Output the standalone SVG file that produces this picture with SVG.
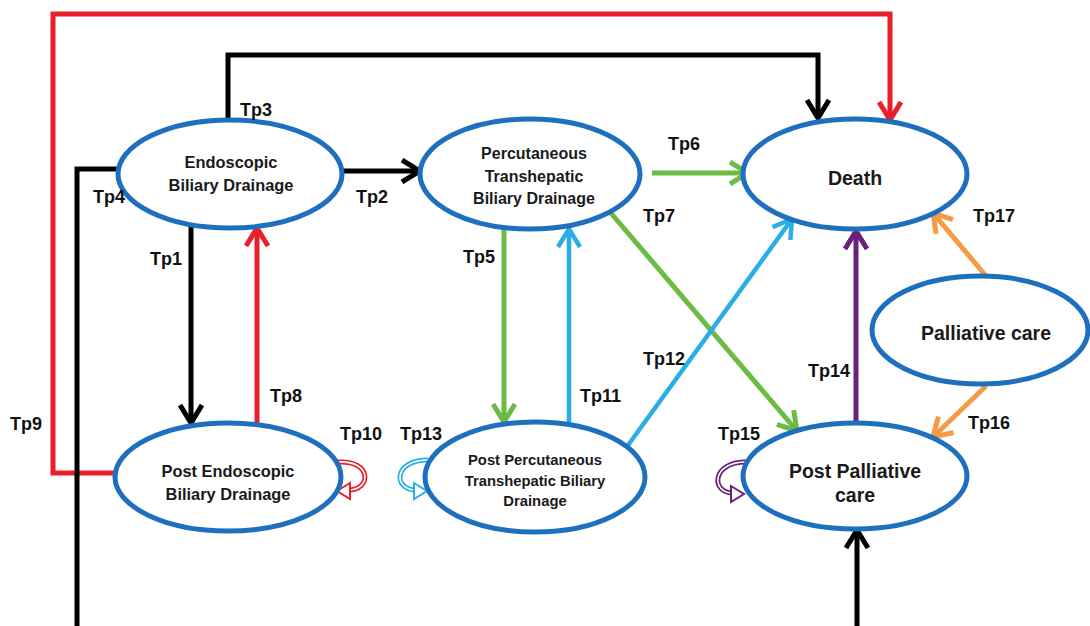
<svg xmlns="http://www.w3.org/2000/svg" width="1090" height="626" viewBox="0 0 1090 626">
<style>
.node{fill:#fff;stroke:#1f6fbf;stroke-width:5}
.nt{font-family:"Liberation Sans",Arial,sans-serif;font-weight:bold;fill:#1a1a1a;text-anchor:middle}
.lbl{font-family:"Liberation Sans",Arial,sans-serif;font-weight:bold;font-size:18px;fill:#111}
.c{fill:none;stroke-linejoin:miter}
.k{stroke:#000;stroke-width:5}
.r{stroke:#e8202a;stroke-width:5}
.g{stroke:#6cbb45;stroke-width:5}
.b{stroke:#29aee6;stroke-width:4.5}
.p{stroke:#6a2278;stroke-width:5}
.o{stroke:#f59b45;stroke-width:5}
.w{stroke:#fff;stroke-width:1.6;fill:none}
</style>
<defs>
<marker id="ak" viewBox="0 0 24 26" markerUnits="userSpaceOnUse" markerWidth="24" markerHeight="26" refX="21" refY="13" orient="auto"><path d="M3,2 L21,13 L3,24" fill="none" stroke="#000" stroke-width="5"/></marker>
<marker id="ar" viewBox="0 0 24 26" markerUnits="userSpaceOnUse" markerWidth="24" markerHeight="26" refX="21" refY="13" orient="auto"><path d="M3,2 L21,13 L3,24" fill="none" stroke="#e8202a" stroke-width="5"/></marker>
<marker id="ag" viewBox="0 0 24 26" markerUnits="userSpaceOnUse" markerWidth="24" markerHeight="26" refX="21" refY="13" orient="auto"><path d="M3,2 L21,13 L3,24" fill="none" stroke="#6cbb45" stroke-width="5"/></marker>
<marker id="ab" viewBox="0 0 24 26" markerUnits="userSpaceOnUse" markerWidth="24" markerHeight="26" refX="21" refY="13" orient="auto"><path d="M3,2 L21,13 L3,24" fill="none" stroke="#29aee6" stroke-width="4.5"/></marker>
<marker id="ap" viewBox="0 0 24 26" markerUnits="userSpaceOnUse" markerWidth="24" markerHeight="26" refX="21" refY="13" orient="auto"><path d="M3,2 L21,13 L3,24" fill="none" stroke="#6a2278" stroke-width="5"/></marker>
<marker id="ao" viewBox="0 0 24 26" markerUnits="userSpaceOnUse" markerWidth="24" markerHeight="26" refX="21" refY="13" orient="auto"><path d="M3,2 L21,13 L3,24" fill="none" stroke="#f59b45" stroke-width="5"/></marker>
</defs>
<rect width="1090" height="626" fill="#fff"/>
<g id="connectors">
<path class="c k" d="M228,120 V55 H818 V118" marker-end="url(#ak)"/>
<path class="c r" d="M115,473 H53 V14 H890 V120" marker-end="url(#ar)"/>
<path class="c k" d="M118,169 H77 V632 H857 V530" marker-end="url(#ak)"/>
<path class="c k" d="M342,171 H420" marker-end="url(#ak)"/>
<path class="c k" d="M191,226 V423" marker-end="url(#ak)"/>
<path class="c r" d="M257,424 V228" marker-end="url(#ar)"/>
<path class="c g" d="M504,228 V422" marker-end="url(#ag)"/>
<path class="c b" d="M569,424 V229" marker-end="url(#ab)"/>
<path class="c g" d="M652,173 H748" marker-end="url(#ag)"/>
<path class="c g" d="M610,212 L797,431" marker-end="url(#ag)"/>
<path class="c b" d="M626,448 L792,219" marker-end="url(#ab)"/>
<path class="c p" d="M856,423 V231" marker-end="url(#ap)"/>
<path class="c o" d="M986,276 L933,213" marker-end="url(#ao)"/>
<path class="c o" d="M986,386 L933,437" marker-end="url(#ao)"/>
<g id="loop10">
<path d="M338,462 C372,460 372,490 348,490" fill="none" stroke="#e8202a" stroke-width="5"/>
<path d="M338,462 C372,460 372,490 348,490" class="w"/>
<path d="M350,483 L337,491 L350,499 Z" fill="#fff" stroke="#e8202a" stroke-width="2"/>
</g>
<g id="loop13">
<path d="M428,460 C393,460 393,490 416,490" fill="none" stroke="#29aee6" stroke-width="5"/>
<path d="M428,460 C393,460 393,490 416,490" class="w"/>
<path d="M414,483 L427,491 L414,499 Z" fill="#fff" stroke="#29aee6" stroke-width="2"/>
</g>
<g id="loop15">
<path d="M746,462 C711,462 711,493 733,493" fill="none" stroke="#6a2278" stroke-width="5"/>
<path d="M746,462 C711,462 711,493 733,493" class="w"/>
<path d="M731,486 L744,494 L731,502 Z" fill="#fff" stroke="#6a2278" stroke-width="2"/>
</g>
</g>
<g id="n-ebd">
<ellipse class="node" cx="230" cy="174" rx="112" ry="54"/>
<text class="nt" x="231" y="168" font-size="16.4">Endoscopic</text>
<text class="nt" x="231" y="191" font-size="16.4">Biliary Drainage</text>
</g>
<g id="n-ptbd">
<ellipse class="node" cx="530" cy="174" rx="110" ry="55"/>
<text class="nt" x="534" y="159" font-size="16">Percutaneous</text>
<text class="nt" x="534" y="182" font-size="16">Transhepatic</text>
<text class="nt" x="534" y="204" font-size="16">Biliary Drainage</text>
</g>
<g id="n-death">
<ellipse class="node" cx="855" cy="174" rx="112" ry="55"/>
<text class="nt" x="855" y="185" font-size="19.5">Death</text>
</g>
<g id="n-pc">
<ellipse class="node" cx="980" cy="330" rx="108" ry="54"/>
<text class="nt" x="986" y="340" font-size="19.5">Palliative care</text>
</g>
<g id="n-pebd">
<ellipse class="node" cx="228" cy="477" rx="113" ry="54"/>
<text class="nt" x="228" y="477" font-size="16.4">Post Endoscopic</text>
<text class="nt" x="228" y="500" font-size="16.4">Biliary Drainage</text>
</g>
<g id="n-pptbd">
<ellipse class="node" cx="535" cy="477" rx="110" ry="55"/>
<text class="nt" x="535" y="465" font-size="14.8">Post Percutaneous</text>
<text class="nt" x="535" y="486" font-size="14.8">Transhepatic Biliary</text>
<text class="nt" x="535" y="506" font-size="14.8">Drainage</text>
</g>
<g id="n-ppc">
<ellipse class="node" cx="855" cy="476" rx="112" ry="53"/>
<text class="nt" x="855" y="478" font-size="19.5">Post Palliative</text>
<text class="nt" x="855" y="502" font-size="19.5">care</text>
</g>
<g id="labels">
<text class="lbl" x="240" y="116">Tp3</text>
<text class="lbl" x="93" y="203">Tp4</text>
<text class="lbl" x="356" y="203">Tp2</text>
<text class="lbl" x="150" y="265">Tp1</text>
<text class="lbl" x="463" y="263">Tp5</text>
<text class="lbl" x="668" y="150">Tp6</text>
<text class="lbl" x="643" y="222">Tp7</text>
<text class="lbl" x="973" y="222">Tp17</text>
<text class="lbl" x="643" y="365">Tp12</text>
<text class="lbl" x="580" y="402">Tp11</text>
<text class="lbl" x="808" y="377">Tp14</text>
<text class="lbl" x="270" y="402">Tp8</text>
<text class="lbl" x="10" y="430">Tp9</text>
<text class="lbl" x="340" y="440">Tp10</text>
<text class="lbl" x="400" y="440">Tp13</text>
<text class="lbl" x="718" y="440">Tp15</text>
<text class="lbl" x="968" y="429">Tp16</text>
</g>
</svg>
